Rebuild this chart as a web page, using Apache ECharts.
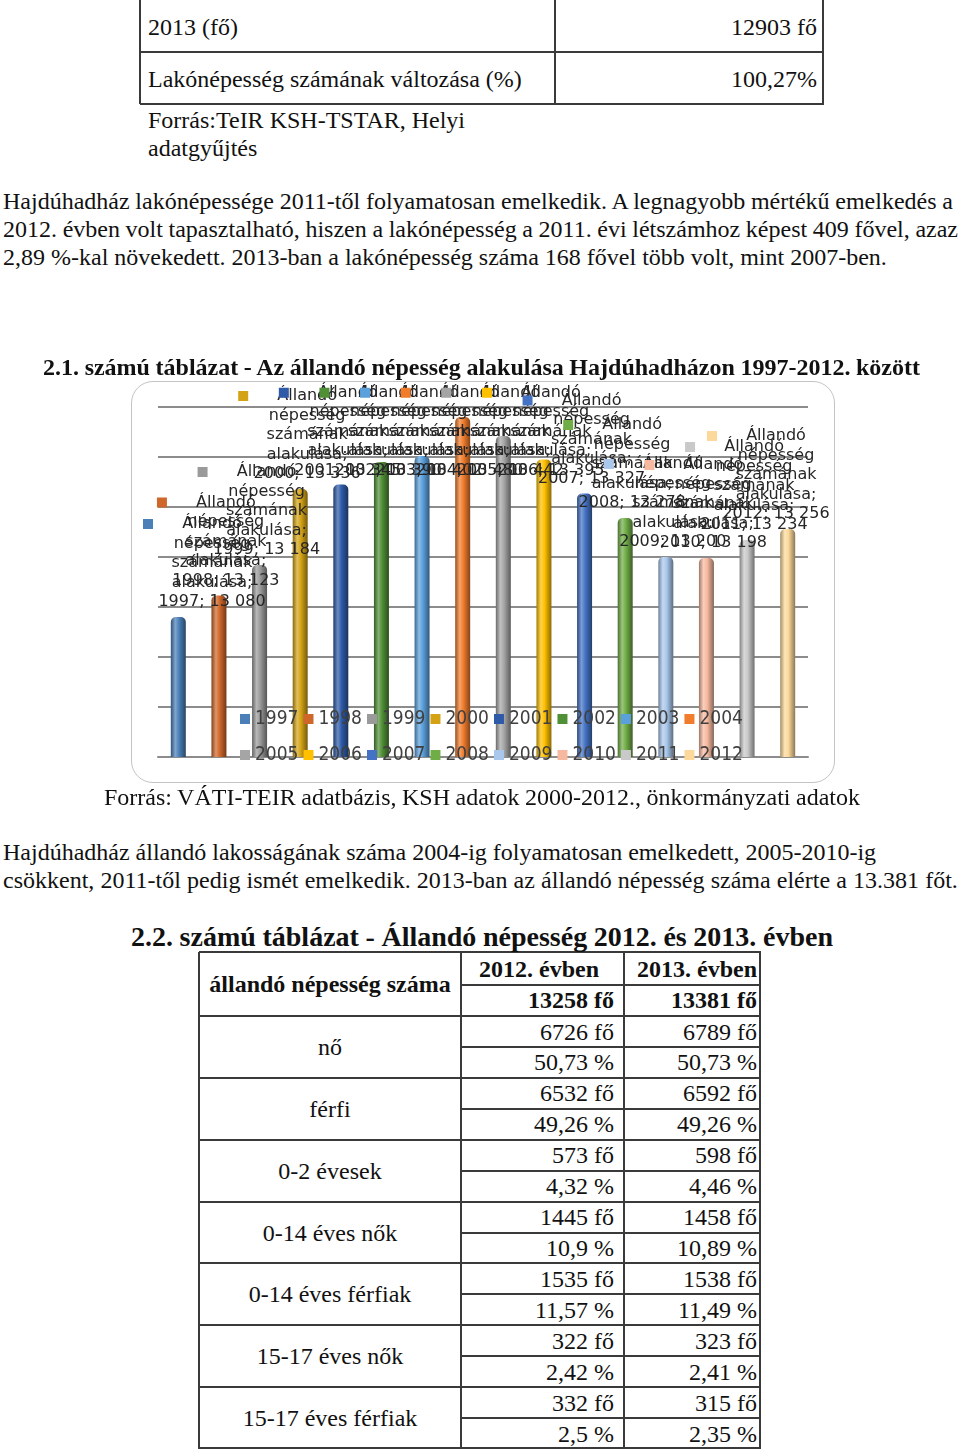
<!DOCTYPE html>
<html>
<head>
<meta charset="utf-8">
<script src="https://cdn.jsdelivr.net/npm/echarts@6/dist/echarts.min.js"></script>
<style>
html,body{margin:0;padding:0;background:#fff;}
body{width:960px;height:1450px;position:relative;overflow:hidden;font-family:'Liberation Serif','Times New Roman',serif;color:#111;}
.t{position:absolute;white-space:nowrap;font-size:24px;line-height:28px;z-index:3;}
.b{font-weight:bold;}
.r{text-align:right;}
.c{text-align:center;}
.hl{position:absolute;height:0;border-top:2px solid #3a3a3a;z-index:2;}
.vl{position:absolute;width:0;border-left:2px solid #3a3a3a;z-index:2;}
#box{position:absolute;left:131px;top:381px;width:702px;height:400px;border:1.5px solid #c4c4c4;border-radius:22px;z-index:0;}
#chart{position:absolute;left:0;top:360px;width:960px;height:430px;z-index:1;}
</style>
</head>
<body>
<div id="box"></div>
<div id="chart"></div>
<div id="doc"></div>
<script>
// ---------- chart data ----------
const years = ['1997','1998','1999','2000','2001','2002','2003','2004','2005','2006','2007','2008','2009','2010','2011','2012'];
const population = [13080,13123,13184,13336,13345,13390,13402,13480,13442,13395,13327,13278,13200,13198,13234,13256];
const seriesName = 'Állandó népesség számának alakulása';
const axisMin = 12800, axisMax = 13500, axisStep = 100;

// ---------- document text data ----------
const topRows = [['2013 (fő)','12903 fő'],['Lakónépesség számának változása (%)','100,27%']];
const para1 = [
  'Hajdúhadház lakónépessége 2011-től folyamatosan emelkedik. A legnagyobb mértékű emelkedés a',
  '2012. évben volt tapasztalható, hiszen a lakónépesség a 2011. évi létszámhoz képest 409 fővel, azaz',
  '2,89 %-kal növekedett. 2013-ban a lakónépesség száma 168 fővel több volt, mint 2007-ben.'
];
const para2 = [
  'Hajdúhadház állandó lakosságának száma 2004-ig folyamatosan emelkedett, 2005-2010-ig',
  'csökkent, 2011-től pedig ismét emelkedik.  2013-ban az állandó népesség száma elérte a 13.381 főt.'
];
const title1 = '2.1. számú táblázat - Az állandó népesség alakulása Hajdúhadházon 1997-2012. között';
const source1 = 'Forrás: VÁTI-TEIR adatbázis, KSH adatok 2000-2012., önkormányzati adatok';
const title2 = '2.2. számú táblázat - Állandó népesség 2012. és 2013. évben';
const t2Head = ['állandó népesség száma','2012. évben','2013. évben','13258 fő','13381 fő'];
const t2Labels = ['nő','férfi','0-2 évesek','0-14 éves nők','0-14 éves férfiak','15-17 éves nők','15-17 éves férfiak'];
const t2Val2012 = ['6726 fő','50,73 %','6532 fő','49,26 %','573 fő','4,32 %','1445 fő','10,9 %','1535 fő','11,57 %','322 fő','2,42 %','332 fő','2,5 %'];
const t2Val2013 = ['6789 fő','50,73 %','6592 fő','49,26 %','598 fő','4,46 %','1458 fő','10,89 %','1538 fő','11,49 %','323 fő','2,41 %','315 fő','2,35 %'];

// ---------- styles ----------
const colors = ['#4a7fb8','#d0672a','#9a9a9a','#d4a315','#2f5aa8','#4f8f35','#5aa0dc','#f07c2c',
                '#a5a5a5','#ffc000','#4472c4','#70ad47','#a9c8ec','#f6b9a0','#c9c9c9','#fcd99b'];

// ---------- document builder ----------
const doc = document.getElementById('doc');
function txt(s, css, cls){ const d=document.createElement('div'); d.className='t '+(cls||''); d.textContent=s; Object.assign(d.style, css); doc.appendChild(d); return d; }
function hl(x1,x2,y){ const d=document.createElement('div'); d.className='hl'; Object.assign(d.style,{left:x1+'px',width:(x2-x1)+'px',top:(y-1)+'px'}); doc.appendChild(d); }
function vl(x,y1,y2){ const d=document.createElement('div'); d.className='vl'; Object.assign(d.style,{left:(x-1)+'px',top:y1+'px',height:(y2-y1)+'px'}); doc.appendChild(d); }
function fit(el, w){ // justify a single line to width w
  el.style.wordSpacing='0px';
  const nat = el.getBoundingClientRect().width;
  const n = (el.textContent.match(/ /g)||[]).length;
  if(n>0){ el.style.wordSpacing = ((w-nat)/n)+'px'; }
}

// top table
vl(140,0,104); vl(555,0,104); vl(823,0,104);
hl(140,824,52); hl(140,824,104);
topRows.forEach((row,i)=>{
  txt(row[0],{left:'148px',top:(13+52*i)+'px'});
  txt(row[1],{right:(960-817)+'px',top:(13+52*i)+'px'},'r');
});
txt('Forrás:TeIR KSH-TSTAR, Helyi',{left:'148px',top:'106px'});
txt('adatgyűjtés',{left:'148px',top:'134px'});

// paragraph 1
const p1w=[950,955,null];
para1.forEach((s,i)=>{ const e=txt(s,{left:'3px',top:(187+28*i)+'px'}); if(p1w[i]) fit(e,p1w[i]); });

// title 1
const t1 = txt(title1,{left:'43px',top:'353px'},'b'); fit(t1,877);

// source
const s1 = txt(source1,{left:'104px',top:'783px'}); fit(s1,756);

// paragraph 2
para2.forEach((s,i)=>{ const e=txt(s,{left:'3px',top:(838+28*i)+'px'}); if(i===1) fit(e,955); });

// title 2
const t2 = txt(title2,{left:'131px',top:'922px',fontSize:'28px',lineHeight:'30px'},'b'); fit(t2,702);

// table 2
const X0=199, X1=461, X2=624, X3=760, Y0=952, YH=985, YB=1016, RH=30.93;
hl(X0,X3+1,Y0); hl(X1,X3+1,YH); hl(X0,X3+1,YB);
for(let r=1;r<=14;r++){ const y=YB+RH*r; if(r%2===0) hl(X0,X3+1,Math.min(y,1448)); else hl(X1,X3+1,y); }
[X0,X1,X2,X3].forEach(x=>vl(x,Y0,1449));
txt(t2Head[0],{left:X0+'px',width:(X1-X0)+'px',top:(984-14)+'px'},'b c');
txt(t2Head[1],{right:(960-599)+'px',top:(969-14)+'px'},'b r');
txt(t2Head[2],{right:(960-757)+'px',top:(969-14)+'px'},'b r');
txt(t2Head[3],{right:(960-614)+'px',top:(1000-14)+'px'},'b r');
txt(t2Head[4],{right:(960-757)+'px',top:(1000-14)+'px'},'b r');
t2Labels.forEach((s,k)=>{
  const cy = YB + RH*(2*k+1);
  txt(s,{left:X0+'px',width:(X1-X0)+'px',top:(cy-14)+'px'},'c');
});
for(let r=0;r<14;r++){
  const cy = YB + RH*r + 15.5;
  txt(t2Val2012[r],{right:(960-614)+'px',top:(cy-14)+'px'},'r');
  txt(t2Val2013[r],{right:(960-757)+'px',top:(cy-14)+'px'},'r');
}

// ---------- chart ----------
function mix(hex,t,target){
  const a=parseInt(hex.slice(1),16), b=parseInt(target.slice(1),16);
  const ch=(v,s)=>(v>>s)&255;
  const m=s=>Math.round(ch(a,s)*(1-t)+ch(b,s)*t);
  return 'rgb('+m(16)+','+m(8)+','+m(0)+')';
}
function cylinder(c){
  return new echarts.graphic.LinearGradient(0,0,1,0,[
    {offset:0,color:mix(c,0.35,'#000000')},
    {offset:0.3,color:mix(c,0.3,'#ffffff')},
    {offset:0.55,color:c},
    {offset:1,color:mix(c,0.45,'#000000')}
  ]);
}
function fmt(v){ return String(v).replace(/\B(?=(\d{3})+(?!\d))/g,' '); }

const chartTop = 360;
const clampL = 143, clampR = 831, clampT = 383 - chartTop;
const legendRowCenters = [719, 755];

const chart = echarts.init(document.getElementById('chart'), null, {renderer:'canvas'});
const words = seriesName.split(' ');
const series = years.map((y,i)=>({
  name: y,
  type: 'bar',
  barWidth: 15,
  barGap: '-100%',
  data: years.map((_,j)=> j===i ? population[i] : '-'),
  itemStyle: { color: cylinder(colors[i]), borderRadius: [5,5,0,0] },
  label: {
    show: true,
    position: 'top',
    distance: 7,
    formatter: (p)=>{
      const lines = [words[0], words[1], words[2], words[3]+';', p.name+'; '+fmt(p.value)];
      return lines.map((l,k)=> (k===0?'{sq|}{g|}':'{p|}')+'{t|'+l+'}').join('\n');
    },
    rich: {
      sq: { width: 10, height: 10, backgroundColor: colors[i], lineHeight: 19.5 },
      g: { width: 4, lineHeight: 19.5 },
      p: { width: 14, lineHeight: 19.5 },
      t: { width: 110, align: 'center', fontFamily: "'DejaVu Sans',sans-serif", fontSize: 16, color: '#262626', lineHeight: 19.5 }
    }
  },
  labelLayout: (params)=>{
    const r = params.labelRect;
    let x = Math.max(clampL, Math.min(r.x, clampR - r.width));
    let yy = Math.max(clampT, r.y);
    return { x: x, y: yy, align: 'left', verticalAlign: 'top' };
  }
}));

const legends = [0,1].map(k=>({
  data: years.slice(k*8, k*8+8).map((y,j)=>({ name: y, itemStyle: { color: colors[k*8+j] } })),
  left: 240, top: legendRowCenters[k] - chartTop - 14.5, padding: 0,
  orient: 'horizontal',
  icon: 'rect', itemWidth: 10, itemHeight: 10, itemGap: 5,
  selectedMode: false,
  textStyle: { fontFamily: "'DejaVu Sans Condensed','DejaVu Sans',sans-serif", fontSize: 19, color: '#404040', lineHeight: 29, width: 42 }
}));

chart.setOption({
  animation: false,
  backgroundColor: 'transparent',
  grid: { left: 158, right: 960-808, top: 407-chartTop, bottom: chartTop+430-757, containLabel: false },
  xAxis: {
    type: 'category', data: years,
    axisLabel: { show: false }, axisTick: { show: false },
    axisLine: { show: true, lineStyle: { color: '#8c8c8c', width: 2 } }
  },
  yAxis: {
    type: 'value', min: axisMin, max: axisMax, interval: axisStep,
    axisLabel: { show: false }, axisTick: { show: false }, axisLine: { show: false },
    splitLine: { show: true, lineStyle: { color: '#8c8c8c', width: 2 } }
  },
  legend: legends,
  series: series
});
</script>
</body>
</html>
